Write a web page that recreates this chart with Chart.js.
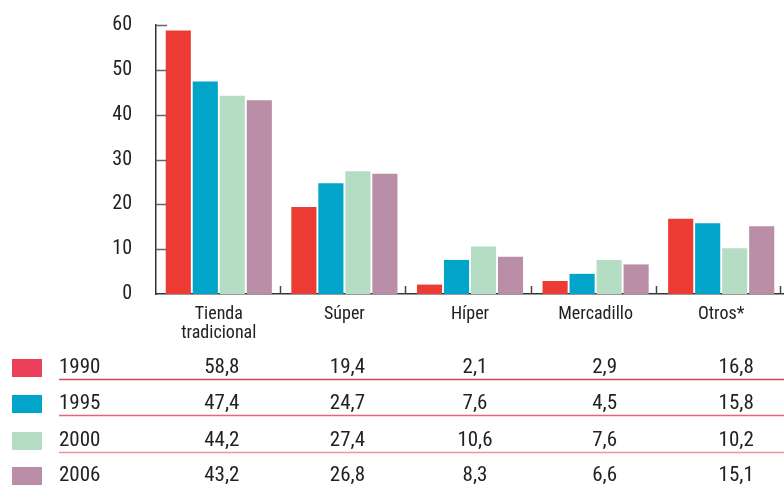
<!DOCTYPE html>
<html>
<head>
<meta charset="utf-8">
<script src="https://cdn.jsdelivr.net/npm/chart.js@4/dist/chart.umd.min.js"></script>
<style>
  html, body { margin: 0; padding: 0; background: #fff; }
  #wrap { width: 784px; height: 489px; }
</style>
</head>
<body>
<div id="wrap"><canvas id="graph" width="784" height="489"></canvas></div>
<script>
// data
const categories = [['Tienda', 'tradicional'], 'Súper', 'Híper', 'Mercadillo', 'Otros*'];
const years = ['1990', '1995', '2000', '2006'];
const v1990 = [58.8, 19.4, 2.1, 2.9, 16.8];
const v1995 = [47.4, 24.7, 7.6, 4.5, 15.8];
const v2000 = [44.2, 27.4, 10.6, 7.6, 10.2];
const v2006 = [43.2, 26.8, 8.3, 6.6, 15.1];
const yTicks = [0, 10, 20, 30, 40, 50, 60];

const barColors = ['#ec3b33', '#00a5c9', '#b4ddc3', '#b98ea6'];
const swatchColors = ['#ec405a', '#00a5c9', '#b4ddc3', '#b98ea6'];
const ruleColors = ['#d9425b', '#f0607a', '#f3909f'];
const FONT = '"Roboto Condensed", "DejaVu Sans Condensed", sans-serif';
const colShift = [3, 3, 5, 9, 15];

const series = [v1990, v1995, v2000, v2006];

// inner ticks on both axes + data table under the chart
const extras = {
  id: 'extras',
  afterDraw(chart) {
    const ctx = chart.ctx;
    const x = chart.scales.x;
    const yS = chart.scales.y;
    const area = chart.chartArea;
    const step = x.getPixelForValue(1) - x.getPixelForValue(0);
    ctx.save();
    // y ticks pointing into the plot
    ctx.strokeStyle = '#666';
    ctx.lineWidth = 1.5;
    yTicks.slice(1).forEach(v => {
      const py = Math.round(yS.getPixelForValue(v)) + 0.5;
      ctx.beginPath();
      ctx.moveTo(area.left, py);
      ctx.lineTo(area.left + 11, py);
      ctx.stroke();
    });
    // small upward ticks between categories
    ctx.strokeStyle = '#444';
    for (let i = 0; i < categories.length; i++) {
      const px = Math.min(x.getPixelForValue(i) + step / 2 - 2, 780);
      ctx.beginPath();
      ctx.moveTo(Math.round(px) + 0.5, area.bottom);
      ctx.lineTo(Math.round(px) + 0.5, area.bottom - 8);
      ctx.stroke();
    }
    // table
    const rowY = [368, 404, 441, 476];
    ctx.font = '21px ' + FONT;
    ctx.textBaseline = 'middle';
    series.forEach((vals, r) => {
      const y = rowY[r];
      ctx.fillStyle = swatchColors[r];
      ctx.fillRect(12, y - 9, 30, 18);
      ctx.fillStyle = '#222';
      ctx.textAlign = 'left';
      ctx.fillText(years[r], 59, y);
      ctx.textAlign = 'center';
      vals.forEach((v, i) => {
        const cx = x.getPixelForValue(i) + colShift[i];
        ctx.fillText(v.toFixed(1).replace('.', ','), cx, y);
      });
      if (r < ruleColors.length) {
        ctx.strokeStyle = ruleColors[r];
        ctx.lineWidth = 1.5;
        ctx.beginPath();
        ctx.moveTo(59, y + 11.5);
        ctx.lineTo(784, y + 11.5);
        ctx.stroke();
      }
    });
    ctx.restore();
  }
};

new Chart(document.getElementById('graph'), {
  type: 'bar',
  data: {
    labels: categories,
    datasets: series.map((vals, i) => ({
      label: years[i],
      data: vals,
      backgroundColor: barColors[i],
      borderWidth: 0,
      categoryPercentage: 0.86,
      barPercentage: 0.93
    }))
  },
  options: {
    responsive: false,
    animation: false,
    events: [],
    layout: { padding: { left: 0, top: 25, right: 0, bottom: 135 } },
    plugins: { legend: { display: false }, tooltip: { enabled: false } },
    scales: {
      x: {
        grid: { display: false },
        border: { display: true, color: '#333', width: 1.5 },
        ticks: { color: '#222', font: { family: FONT, size: 18, lineHeight: 1.05 }, padding: 3, maxRotation: 0, autoSkip: false },
        afterFit(scale) {
          scale.height = 60;
          scale.paddingLeft = 0;
          scale.paddingRight = 0;
        }
      },
      y: {
        min: 0,
        max: 60,
        afterBuildTicks(scale) { scale.ticks = yTicks.map(v => ({ value: v })); },
        grid: { display: false },
        border: { display: true, color: '#333', width: 1.5 },
        ticks: { color: '#222', font: { family: FONT, size: 20 }, padding: 16 },
        afterFit(scale) {
          scale.width = 156;
          scale.paddingTop = 0;
          scale.paddingBottom = 0;
        }
      }
    }
  },
  plugins: [extras]
});
</script>
</body>
</html>
